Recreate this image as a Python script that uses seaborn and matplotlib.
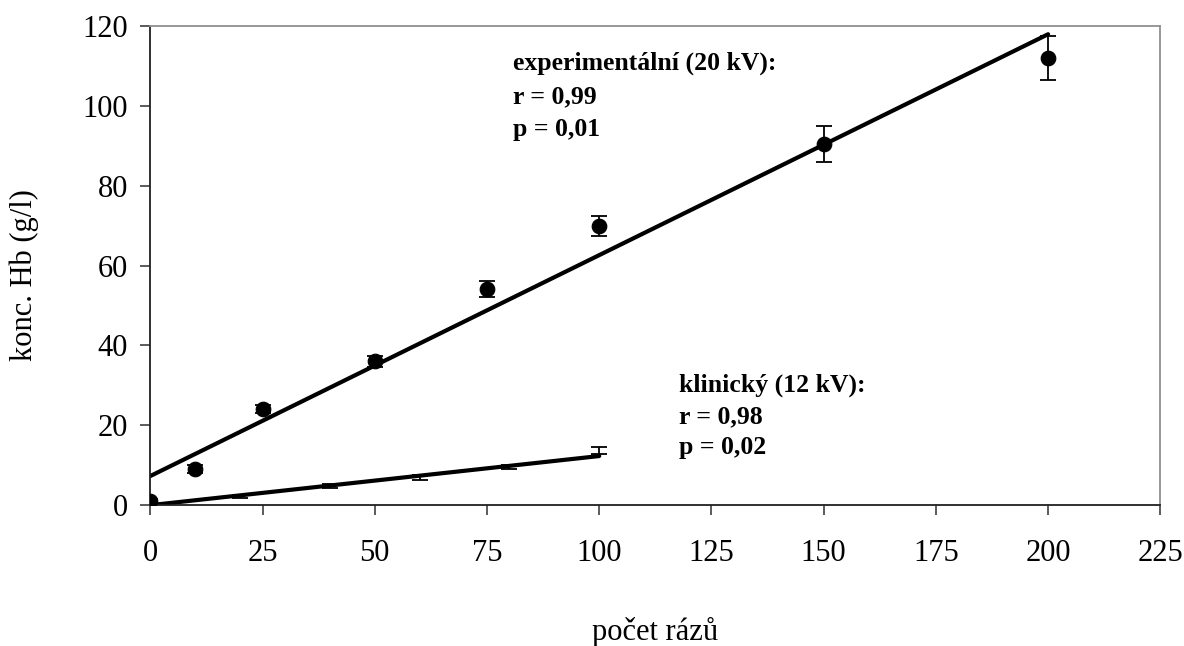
import numpy as np
import pandas as pd
import matplotlib
matplotlib.use("Agg")
import matplotlib.pyplot as plt
import seaborn as sns

# experimental device (20 kV)
exp_shots = [0, 10, 25, 50, 75, 100, 150, 200]
exp_hb = [1.0, 9.0, 24.0, 36.0, 54.0, 70.0, 90.5, 112.0]
exp_err = [0.5, 1.0, 1.0, 1.3, 2.0, 2.5, 4.5, 5.5]
exp_fit = [7.3, 0.553]      # intercept, slope
exp_fit_range = [0, 200]

# clinical device (12 kV)
cli_shots = [20, 40, 60, 80, 100]
cli_hb = [2.2, 4.8, 7.0, 9.6, 13.6]
cli_err = [0.4, 0.6, 0.6, 0.5, 0.9]
cli_fit = [0.0, 0.123]
cli_fit_range = [0, 100]

x_ticks = [0, 25, 50, 75, 100, 125, 150, 175, 200, 225]
y_ticks = [0, 20, 40, 60, 80, 100, 120]

sns.set_style("white")
plt.rcParams['font.family'] = ['Liberation Serif', 'DejaVu Serif']
plt.rcParams.update({"text.color": "black", "axes.labelcolor": "black",
                     "xtick.labelcolor": "black", "ytick.labelcolor": "black"})

fig, ax = plt.subplots(figsize=(11.84, 6.46), dpi=100)
fig.subplots_adjust(left=0.127, right=0.98, top=0.96, bottom=0.218)

# regression lines
for fit, rng in [(exp_fit, exp_fit_range), (cli_fit, cli_fit_range)]:
    xs = np.array(rng, dtype=float)
    line = pd.DataFrame({"x": xs, "y": fit[0] + fit[1] * xs})
    sns.lineplot(data=line, x="x", y="y", color="black", lw=3.0, ax=ax,
                 zorder=2)

# experimental points with error bars
ax.errorbar(exp_shots, exp_hb, yerr=exp_err, fmt="none", ecolor="black",
            elinewidth=1.3, capsize=5.5, capthick=1.3, zorder=3)
sns.scatterplot(x=exp_shots, y=exp_hb, color="black", s=110, marker="o",
                edgecolor="black", ax=ax, zorder=4)

# clinical series: error bars only
ax.errorbar(cli_shots, cli_hb, yerr=cli_err, fmt="none", ecolor="black",
            elinewidth=1.3, capsize=5.5, capthick=1.3, zorder=3)

ax.set_xlim(0, 225)
ax.set_ylim(0, 120)
ax.set_xticks(x_ticks)
ax.set_yticks(y_ticks)
ax.tick_params(axis="both", labelsize=22, length=7, width=1.2,
               color="#404040", direction="out", bottom=True, left=True)
ax.tick_params(axis="y", pad=9)
ax.tick_params(axis="x", pad=17)
for name, sp in ax.spines.items():
    sp.set_linewidth(1.3)
    sp.set_color("#202020" if name in ("left", "bottom") else "#909090")

ax.set_xlabel("počet rázů", fontsize=22)
ax.set_ylabel("konc. Hb (g/l)", fontsize=22)
ax.xaxis.set_label_coords(0.5, -0.234)
ax.yaxis.set_label_coords(-0.11, 0.48)

ax.text(80.8, 113.5, "experimentální (20 kV):\nr = 0,99\np = 0,01",
        fontsize=18.5, fontweight="bold", va="top", ha="left",
        linespacing=1.55)
ax.text(117.8, 33.0, "klinický (12 kV):\nr = 0,98\np = 0,02",
        fontsize=18.5, fontweight="bold", va="top", ha="left",
        linespacing=1.45)

fig.savefig("out.png", dpi=100)
